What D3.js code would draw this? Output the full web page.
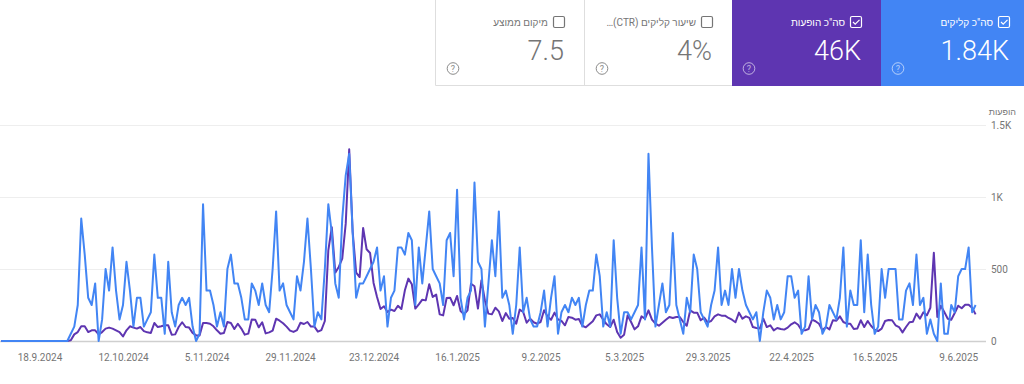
<!DOCTYPE html>
<html lang="he">
<head>
<meta charset="utf-8">
<script src="https://cdn.jsdelivr.net/npm/d3@7"></script>
<style>
  html, body { margin: 0; padding: 0; background: #fff; }
  svg { display: block; font-family: Roboto, "Noto Sans", sans-serif; }
  .axis text { fill: #757575; font-size: 10px; font-family: Roboto, "Noto Sans", sans-serif; }
</style>
</head>
<body>
<div id="chart"></div>
<script>
var startDate = "2024-09-07";
var clicks = [
    0,0,0,0,0,0,0,0,0,0,0,0,0,0,0,0,0,0,0,
    0,1,2,5,17,12,6,5,8,0,
    3,10,7,13,7,3,5,11,7,2,
    6,6,2,3,4,12,6,6,1,11,
    4,2,5,6,5,6,2,0,1,19,
    7,7,5,2,4,2,10,12,8,8,
    6,3,3,8,7,5,8,5,4,10,
    18,7,8,5,4,3,9,7,11,17,
    10,2,4,3,10,19,15,8,6,17,
    23,26,15,6,8,8,9,10,11,13,
    7,9,2,6,7,13,13,12,15,14,
    5,13,8,13,18,10,9,8,5,14,
    15,9,21,6,3,6,7,22,11,10,
    2,8,14,9,18,6,7,5,1,5,
    13,4,6,3,2,2,4,7,2,6,
    9,1,4,5,4,6,5,6,2,5,
    7,7,12,9,2,4,2,14,6,1,
    4,4,3,4,5,13,3,26,13,2,
    5,8,4,5,15,5,3,1,6,4,
    12,10,4,3,2,5,7,13,5,7,
    5,10,6,10,7,5,4,3,4,0,
    4,7,6,3,5,3,4,9,9,6,
    7,1,2,9,3,5,4,1,2,5,
    4,3,6,13,2,7,5,5,14,4,
    12,5,1,2,10,6,10,10,10,3,
    3,7,8,5,12,5,6,1,3,1,
    0,8,1,1,5,4,9,10,10,13,
    4,5
];
var impressions = [
    0,0,0,0,0,0,0,0,0,0,0,0,0,0,0,0,0,0,0,
    0,5,46,62,102,102,62,74,74,46,
    62,86,93,86,74,62,32,74,102,93,
    86,97,69,60,56,125,97,102,109,109,
    44,46,97,130,97,93,56,39,39,125,
    125,120,102,74,51,56,132,125,83,120,
    86,44,51,150,148,95,130,53,60,72,
    155,141,123,100,72,63,76,127,118,132,
    100,100,65,76,139,630,790,475,514,572,
    815,1331,757,475,444,785,637,611,403,306,
    222,241,201,218,208,245,222,352,433,394,
    225,255,287,282,394,306,322,185,178,299,
    301,248,313,208,185,213,398,380,225,421,
    282,190,185,231,206,139,194,155,160,120,
    218,201,127,155,130,120,132,213,171,148,
    197,150,139,109,167,162,148,153,106,95,
    116,137,178,185,148,116,97,148,62,23,
    44,178,132,81,102,171,155,213,148,120,
    106,127,148,167,160,167,167,132,106,213,
    197,197,144,162,130,139,171,185,176,176,
    160,148,130,197,155,171,160,97,90,86,
    155,97,109,74,90,83,79,93,116,130,
    113,74,74,83,148,137,120,74,97,81,
    144,141,171,132,120,120,83,86,144,97,
    139,104,79,69,86,139,146,144,109,97,
    60,97,130,134,190,155,199,178,231,613,
    167,245,201,155,148,194,245,227,252,252,
    231,185
];
var xTickDates = ["2024-09-18","2024-10-12","2024-11-05","2024-11-29","2024-12-23","2025-01-16","2025-02-09","2025-03-05","2025-03-29","2025-04-22","2025-05-16","2025-06-09"];
var yTicks = [0, 500, 1000, 1500];
var yTickLabels = ["0", "500", "1K", "1.5K"];
var cardTitles = ["מיקום ממוצע", "שיעור קליקים (CTR)…", "סה\"כ הופעות", "סה\"כ קליקים"];
var cardValues = ["7.5", "4%", "46K", "1.84K"];
var cardLeft = [436, 585, 732, 881, 1024];
var cardPad = [21, 20, 20, 15];
var cardFill = ["#fff", "#fff", "#5e35b1", "#4285f4"];
var cardChecked = [false, false, true, true];

var width = 1024;
var height = 384;
var plotRight = 986;
var parseDate = d3.utcParse("%Y-%m-%d");
var firstDay = parseDate(startDate);

var svg = d3.select("#chart").append("svg")
    .attr("width", width)
    .attr("height", height);

var x = d3.scaleUtc()
    .domain([firstDay, d3.utcDay.offset(firstDay, clicks.length - 1)])
    .range([1.2, 975.6]);
var yImp = d3.scaleLinear().domain([0, 1500]).range([341, 125]);
var yClicks = d3.scaleLinear().domain([0, 30]).range([341, 125]);

// grid lines
var grid = svg.append("g")
    .attr("transform", "translate(" + plotRight + ",0)")
    .call(d3.axisLeft(yImp).tickValues(yTicks).tickSize(plotRight).tickFormat(""));
grid.select(".domain").remove();
grid.selectAll("line")
    .attr("stroke", function (d) { return d === 0 ? "#cfcfcf" : "#eeeeee"; })
    .attr("stroke-width", function (d) { return d === 0 ? 1.5 : 1; });

// right axis
var yAxis = svg.append("g")
    .attr("class", "axis")
    .attr("transform", "translate(986,0)")
    .call(d3.axisRight(yImp).tickValues(yTicks).tickSize(0).tickPadding(5)
        .tickFormat(function (d, i) { return yTickLabels[i]; }));
yAxis.select(".domain").remove();

svg.append("text")
    .attr("x", 1016)
    .attr("y", 115)
    .attr("direction", "rtl")
    .attr("fill", "#757575")
    .attr("font-size", 9)
    .text("הופעות");

// bottom axis
var xAxis = svg.append("g")
    .attr("class", "axis")
    .attr("transform", "translate(0,341)")
    .call(d3.axisBottom(x).tickValues(xTickDates.map(parseDate)).tickSize(0).tickPadding(13)
        .tickFormat(d3.utcFormat("%-d.%-m.%Y")));
xAxis.select(".domain").remove();

function drawLine(values, scale, color) {
    var line = d3.line()
        .x(function (d, i) { return x(d3.utcDay.offset(firstDay, i)); })
        .y(function (d) { return scale(d); });
    svg.append("path")
        .datum(values)
        .attr("d", line)
        .attr("fill", "none")
        .attr("stroke", color)
        .attr("stroke-width", 2)
        .attr("stroke-linejoin", "round");
}
drawLine(impressions, yImp, "#5e35b1");
drawLine(clicks, yClicks, "#4285f4");

// metric cards
var cards = svg.selectAll(".card")
    .data(cardTitles)
    .enter()
    .append("g")
    .attr("class", "card")
    .attr("transform", function (d, i) { return "translate(" + cardLeft[i] + ",0)"; });

cards.append("rect")
    .attr("width", function (d, i) { return cardLeft[i + 1] - cardLeft[i]; })
    .attr("height", 86)
    .attr("fill", function (d, i) { return cardFill[i]; });

function ink(i) {
    return cardChecked[i] ? "#fff" : "#757575";
}
// right edge of the card's content, in card coordinates
function contentRight(i) {
    return cardLeft[i + 1] - cardLeft[i] - cardPad[i];
}

cards.append("rect")
    .attr("x", function (d, i) { return contentRight(i) - 10.5; })
    .attr("y", 16.5)
    .attr("width", 11)
    .attr("height", 11)
    .attr("rx", 1.5)
    .attr("fill", "none")
    .attr("stroke", function (d, i) { return ink(i); })
    .attr("stroke-width", 1.2);

cards.each(function (d, i) {
    if (!cardChecked[i]) return;
    d3.select(this).append("path")
        .attr("d", "M" + (contentRight(i) - 8) + ",22 l2.2,2.2 l4.3,-4.4")
        .attr("fill", "none")
        .attr("stroke", "#fff")
        .attr("stroke-width", 1.2);
});

cards.append("text")
    .attr("x", function (d, i) { return contentRight(i) - 16; })
    .attr("y", 26)
    .attr("direction", "rtl")
    .attr("font-size", 10)
    .attr("fill", function (d, i) { return ink(i); })
    .text(function (d) { return d; });

cards.append("text")
    .attr("x", function (d, i) { return contentRight(i); })
    .attr("y", 60)
    .attr("text-anchor", "end")
    .attr("font-size", 27)
    .attr("font-weight", 300)
    .attr("fill", function (d, i) { return ink(i); })
    .text(function (d, i) { return cardValues[i]; });

cards.append("circle")
    .attr("cx", 17)
    .attr("cy", 68.5)
    .attr("r", 5.8)
    .attr("fill", "none")
    .attr("stroke", function (d, i) { return cardChecked[i] ? "rgba(255,255,255,0.6)" : "#8a8a8a"; })
    .attr("stroke-width", 1);

cards.append("text")
    .attr("x", 17)
    .attr("y", 72)
    .attr("text-anchor", "middle")
    .attr("font-size", 9)
    .attr("fill", function (d, i) { return cardChecked[i] ? "rgba(255,255,255,0.6)" : "#8a8a8a"; })
    .text("?");

// card borders on the white cards
svg.append("path")
    .attr("d", "M435.5,0 V85.5 H732 M584.5,0 V85.5")
    .attr("fill", "none")
    .attr("stroke", "#dedede");
</script>
</body>
</html>
